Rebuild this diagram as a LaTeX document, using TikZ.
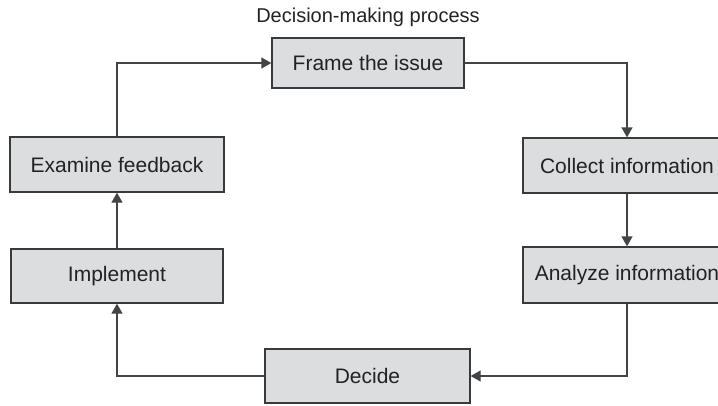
\documentclass[tikz,border=0pt]{standalone}
\usepackage{fontspec}
\setmainfont{Liberation Sans}
\usetikzlibrary{arrows.meta}
\definecolor{boxfill}{HTML}{DCDDDF}
\definecolor{boxdraw}{HTML}{3A3A3A}
\definecolor{linec}{HTML}{444444}
\definecolor{textc}{HTML}{222222}
\begin{document}
\begin{tikzpicture}[x=1bp,y=-1bp,
  stepbox/.style={draw=boxdraw, fill=boxfill, line width=1.3bp, inner sep=0pt,
    text=textc, font=\fontsize{21bp}{25bp}\selectfont, anchor=center},
  conn/.style={draw=linec, line width=1.3bp, -{Triangle[width=11bp,length=10bp]}}]
\useasboundingbox (0,0) rectangle (718,405);
\clip (0,0) rectangle (718,405);
\node[text=textc, font=\fontsize{20bp}{24bp}\selectfont] (title) at (368,17) {Decision-making process};
\node[stepbox, minimum width=192bp, minimum height=50bp] (frame) at (368,63) {Frame the issue};
\node[stepbox, minimum width=208bp, minimum height=55bp] (collect) at (627,165.5) {Collect information};
\node[stepbox, minimum width=208bp, minimum height=56bp] (analyze) at (627,275) {Analyze information};
\node[stepbox, minimum width=205bp, minimum height=54bp] (decide) at (367.5,376) {Decide};
\node[stepbox, minimum width=212bp, minimum height=54bp] (implement) at (117,276) {Implement};
\node[stepbox, minimum width=214bp, minimum height=55bp] (examine) at (117,164.5) {Examine feedback};
\draw[conn] (frame.east) -| (collect.north);
\draw[conn] (collect.south) -- (analyze.north);
\draw[conn] (analyze.south) |- (decide.east);
\draw[conn] (decide.west) -| (implement.south);
\draw[conn] (implement.north) -- (examine.south);
\draw[conn] (examine.north) |- (frame.west);
\end{tikzpicture}
\end{document}
